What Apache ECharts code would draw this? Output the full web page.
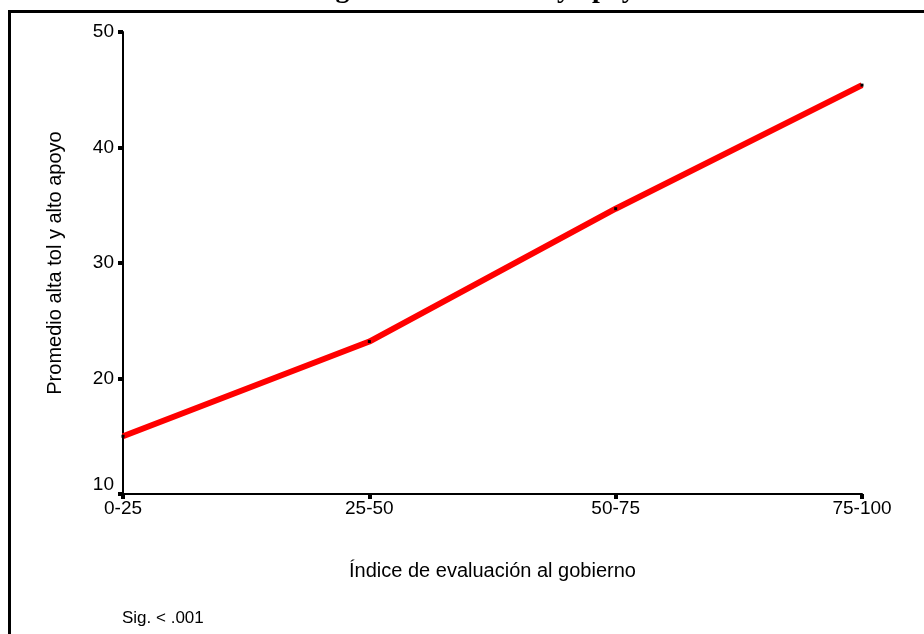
<!DOCTYPE html>
<html>
<head>
<meta charset="utf-8">
<script src="https://cdn.jsdelivr.net/npm/echarts@6/dist/echarts.min.js"></script>
<style>
    html, body {margin: 0; padding: 0; background: #fff;}
    #chart {width: 924px; height: 634px;}
</style>
</head>
<body>
<div id="chart"></div>
<script>
    // data
    const categories = ["0-25", "25-50", "50-75", "75-100"];
    const promedio = [15.0, 23.2, 34.7, 45.4];
    const yTicks = [10, 20, 30, 40, 50];

    const TITLE = "Legitimidad: alta tol y apoyo";
    const X_NAME = "Índice de evaluación al gobierno";
    const Y_NAME = "Promedio alta tol y alto apoyo";
    const NOTE = "Sig. < .001";
    const FONT = "Arial, 'Liberation Sans', sans-serif";

    const chart = echarts.init(document.getElementById("chart"));
    chart.setOption({
        animation: false,
        backgroundColor: "#fff",
        grid: {left: 123, right: 62, top: 32, bottom: 140},
        xAxis: {
            type: "category",
            data: categories,
            boundaryGap: false,
            axisLine: {lineStyle: {color: "#000", width: 2}},
            axisTick: {alignWithLabel: true, length: 5, lineStyle: {color: "#000", width: 4}},
            axisLabel: {color: "#000", fontFamily: FONT, fontSize: 19, margin: 5},
            name: X_NAME,
            nameLocation: "middle",
            nameGap: 67,
            nameTextStyle: {color: "#000", fontFamily: FONT, fontSize: 20}
        },
        yAxis: {
            type: "value",
            min: yTicks[0],
            max: yTicks[yTicks.length - 1],
            interval: 10,
            splitLine: {show: false},
            axisLine: {show: true, lineStyle: {color: "#000", width: 2}},
            axisTick: {show: true, length: 5, lineStyle: {color: "#000", width: 4}},
            axisLabel: {
                color: "#000", fontFamily: FONT, fontSize: 19, margin: 9,
                formatter: (v) => v === yTicks[0] ? `{low|${v}}` : `${v}`,
                rich: {low: {fontFamily: FONT, fontSize: 19, color: "#000", padding: [0, 0, 18, 0]}}
            },
            name: Y_NAME,
            nameLocation: "middle",
            nameGap: 58,
            nameTextStyle: {color: "#000", fontFamily: FONT, fontSize: 20}
        },
        series: [{
            type: "line",
            data: promedio,
            symbol: "rect",
            symbolSize: 3,
            showSymbol: true,
            itemStyle: {color: "#000"},
            lineStyle: {color: "#ff0000", width: 6},
            z: 3
        }],
        graphic: [
            {
                type: "rect",
                shape: {x: 9.5, y: 11.5, width: 940, height: 700},
                style: {fill: "none", stroke: "#000", lineWidth: 3},
                silent: true
            },
            {
                type: "text",
                x: 477, y: 4,
                style: {
                    text: TITLE, font: "bold 28px 'Liberation Serif', 'Times New Roman', serif",
                    fill: "#000", align: "center", verticalAlign: "bottom"
                }
            },
            {
                type: "text",
                x: 122, y: 618,
                style: {
                    text: NOTE, font: "17px " + FONT,
                    fill: "#000", align: "left", verticalAlign: "middle"
                }
            }
        ]
    });
</script>
</body>
</html>
